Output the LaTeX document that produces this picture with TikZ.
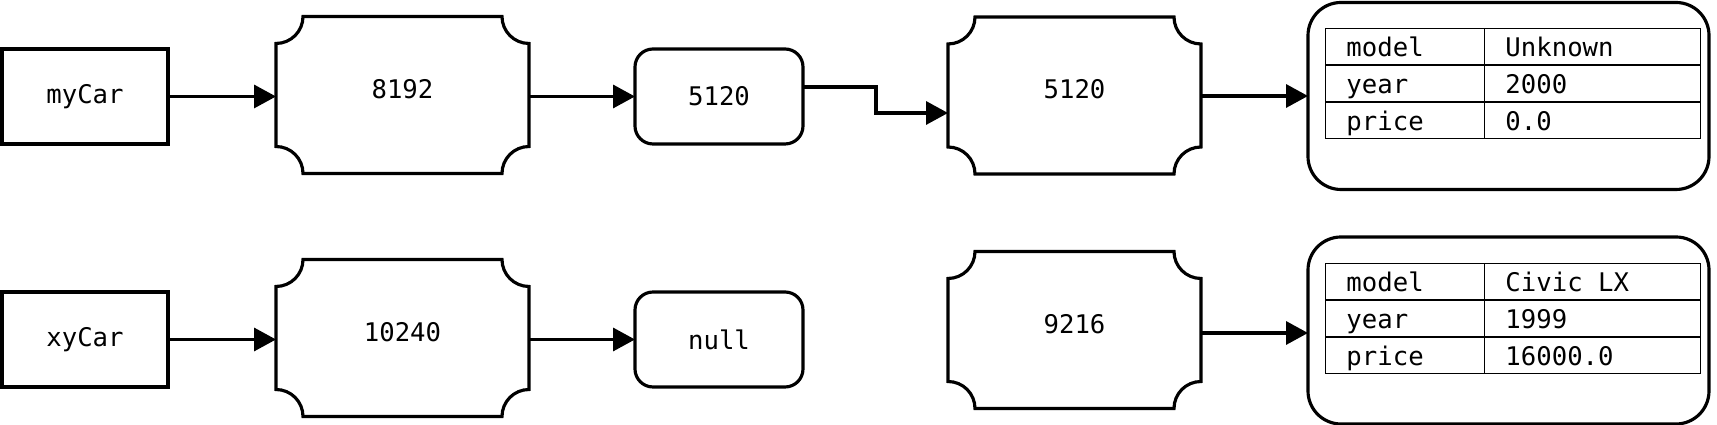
\documentclass[tikz,border=0pt]{standalone}
\usepackage{fontspec}
\setmonofont{DejaVu Sans Mono}
\usetikzlibrary{arrows.meta,matrix}

% frame with concave corners round a named node
\newcommand{\plaqueframe}[1]{%
  \draw ([xshift=0.27cm]#1.north west) -- ([xshift=-0.27cm]#1.north east)
    arc[start angle=180,end angle=270,radius=0.27cm] -- ([yshift=0.27cm]#1.south east)
    arc[start angle=90,end angle=180,radius=0.27cm] -- ([xshift=0.27cm]#1.south west)
    arc[start angle=0,end angle=90,radius=0.27cm] -- ([yshift=-0.27cm]#1.north west)
    arc[start angle=270,end angle=360,radius=0.27cm] -- cycle;}

\tikzset{
  varbox/.style={draw, minimum width=1.66cm, minimum height=0.95cm, outer sep=0pt},
  valbox/.style={draw, rounded corners=0.18cm, minimum width=1.68cm, minimum height=0.95cm, outer sep=0pt},
  plaque/.style={minimum width=2.53cm, minimum height=1.57cm, text height=0.2cm, text depth=0.135cm, outer sep=0pt},
  carbox/.style={draw, rounded corners=0.33cm, minimum width=4.01cm, minimum height=1.87cm, outer sep=0pt},
  cartable/.style={matrix of nodes, anchor=north west, inner sep=0pt, row sep=-0.5pt, column sep=-0.5pt,
    nodes={draw, line width=0.5pt, minimum height=0.367cm, text height=0.2cm, text depth=0pt,
      inner xsep=0.21cm, inner ysep=0pt, align=left},
    column 1/.style={nodes={text width=1.17cm}},
    column 2/.style={nodes={text width=1.74cm}}},
}

\begin{document}
\begin{tikzpicture}[line width=0.9pt, >={Triangle[length=6.2pt,width=6.5pt]}, font=\ttfamily\fontsize{7.3pt}{8.8pt}\selectfont]
\useasboundingbox (0,0) rectangle (17.17,4.25);
% first row
\node[varbox] (mycar) at (0.85,3.285) {myCar};
\node[plaque] (cellA) at (4.025,3.30) {8192};
\plaqueframe{cellA}
\node[valbox] (refA) at (7.19,3.285) {5120};
\node[plaque] (cellC) at (10.745,3.295) {5120};
\plaqueframe{cellC}
\node[carbox] (carA) at (15.085,3.29) {};
\matrix (tabA) [cartable] at (13.23,3.99) {
  model & Unknown \\
  year  & 2000 \\
  price & 0.0 \\
};
%
\draw[->] (mycar.east) -- (mycar.east -| cellA.west);
\draw[->] (refA.west -| cellA.east) -- (refA.west);
\draw[->] ([yshift=0.095cm]refA.east) -- ++(0.73,0) |- ([yshift=-0.175cm]cellC.west);
\draw[->] (carA.west -| cellC.east) -- (carA.west);
%
% second row
\node[varbox] (xycar) at (0.85,0.855) {xyCar};
\node[plaque] (cellB) at (4.025,0.87) {10240};
\plaqueframe{cellB}
\node[valbox] (refB) at (7.19,0.855) {null};
\node[plaque] (cellD) at (10.745,0.95) {9216};
\plaqueframe{cellD}
\node[carbox] (carB) at (15.085,0.945) {};
\matrix (tabB) [cartable] at (13.23,1.64) {
  model & Civic\hspace{0.602em}LX \\
  year  & 1999 \\
  price & 16000.0 \\
};
%
\draw[->] (xycar.east) -- (xycar.east -| cellB.west);
\draw[->] (refB.west -| cellB.east) -- (refB.west);
\draw[->] ([yshift=-0.03cm]cellD.east) -- ([yshift=-0.03cm]cellD.east -| carB.west);
%
\end{tikzpicture}
\end{document}
